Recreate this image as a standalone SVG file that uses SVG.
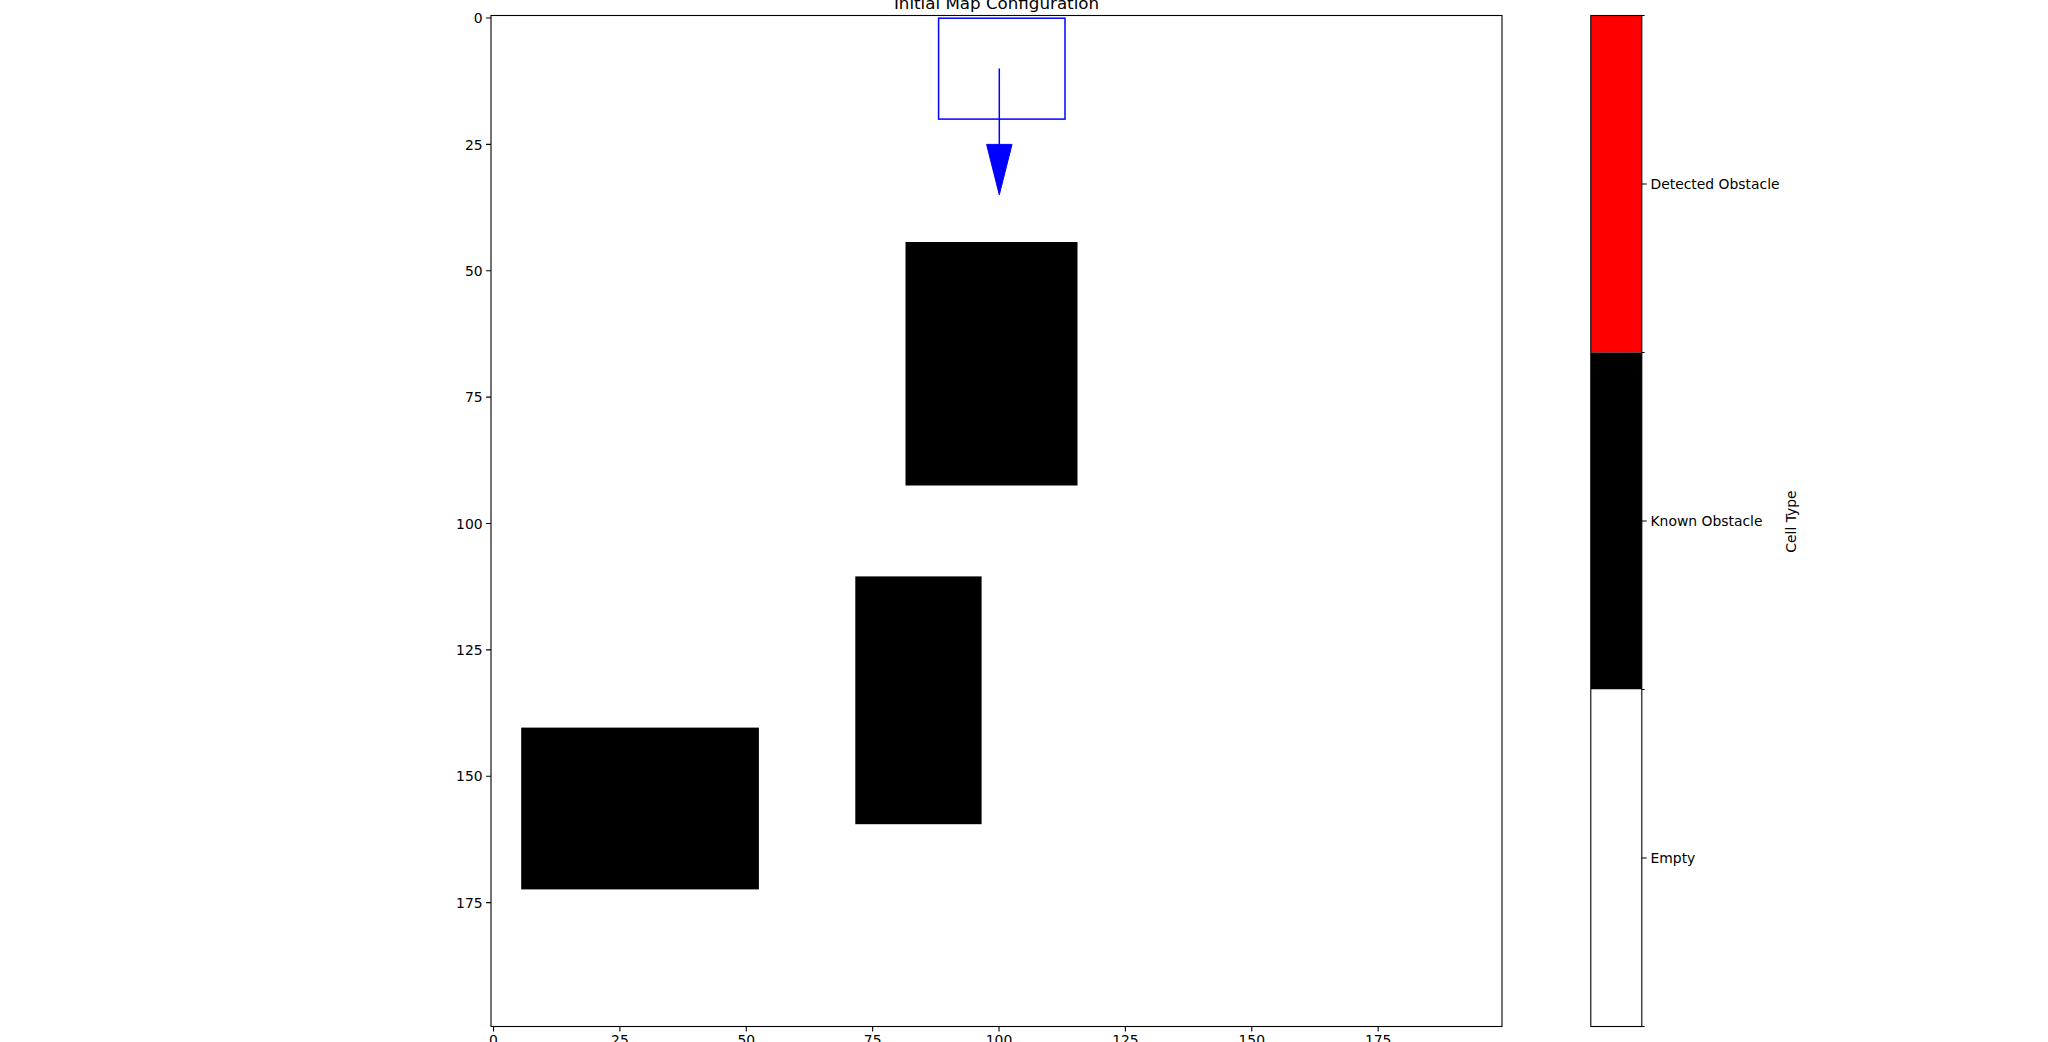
<svg xmlns="http://www.w3.org/2000/svg" width="2048" height="1042" viewBox="0 0 2048 1042">
<style>
text{font-family:"DejaVu Sans","Liberation Sans",sans-serif;fill:#000}
.tk{font-size:13.9px}
.tl{stroke:#000;stroke-width:1.1;fill:none}
.spine{fill:none;stroke:#000;stroke-width:1.1}
.obs{fill:#000}
</style>
<rect x="0" y="0" width="2048" height="1042" fill="#fff"/>
<g id="map-axes">
<rect x="491" y="15.5" width="1011" height="1011" fill="#fff"/>
<g id="obstacles">
<rect id="obstacle-1" class="obs" x="905.5" y="242" width="172" height="243.5"/>
<rect id="obstacle-2" class="obs" x="855.3" y="576.4" width="126.3" height="247.8"/>
<rect id="obstacle-3" class="obs" x="521.2" y="727.6" width="237.7" height="161.8"/>
</g>
<g id="robot">
<rect x="938.6" y="18.2" width="126.4" height="100.9" fill="none" stroke="#0000ff" stroke-width="1.5"/>
</g>
<g id="connectors">
<line x1="999.3" y1="68.5" x2="999.3" y2="145" stroke="#0000ff" stroke-width="1.5"/>
<polygon points="986.6,144.4 1012,144.4 999.3,194.8" fill="#0000ff" stroke="#0000ff" stroke-width="1"/>
</g>
<rect class="spine" x="491" y="15.5" width="1011" height="1011"/>
<g id="y-ticks">
<path class="tl" d="M491,18.03h-4.9M491,144.4h-4.9M491,270.78h-4.9M491,397.15h-4.9M491,523.53h-4.9M491,649.9h-4.9M491,776.28h-4.9M491,902.65h-4.9"/>
<text class="tk" text-anchor="end" x="482.6" y="23.1">0</text>
<text class="tk" text-anchor="end" x="482.6" y="149.5">25</text>
<text class="tk" text-anchor="end" x="482.6" y="275.8">50</text>
<text class="tk" text-anchor="end" x="482.6" y="402.2">75</text>
<text class="tk" text-anchor="end" x="482.6" y="528.6">100</text>
<text class="tk" text-anchor="end" x="482.6" y="655">125</text>
<text class="tk" text-anchor="end" x="482.6" y="781.3">150</text>
<text class="tk" text-anchor="end" x="482.6" y="907.7">175</text>
</g>
<g id="x-ticks">
<path class="tl" d="M493.53,1026.5v4.9M619.9,1026.5v4.9M746.28,1026.5v4.9M872.65,1026.5v4.9M999.03,1026.5v4.9M1125.4,1026.5v4.9M1251.78,1026.5v4.9M1378.15,1026.5v4.9"/>
<text class="tk" text-anchor="middle" x="493.53" y="1044.8">0</text>
<text class="tk" text-anchor="middle" x="619.9" y="1044.8">25</text>
<text class="tk" text-anchor="middle" x="746.28" y="1044.8">50</text>
<text class="tk" text-anchor="middle" x="872.65" y="1044.8">75</text>
<text class="tk" text-anchor="middle" x="999.03" y="1044.8">100</text>
<text class="tk" text-anchor="middle" x="1125.4" y="1044.8">125</text>
<text class="tk" text-anchor="middle" x="1251.78" y="1044.8">150</text>
<text class="tk" text-anchor="middle" x="1378.15" y="1044.8">175</text>
</g>
<text id="title" x="996.5" y="8.5" text-anchor="middle" style="font-size:16.7px">Initial Map Configuration</text>
</g>
<g id="colorbar">
<rect x="1590.8" y="15.5" width="51" height="337" fill="#ff0000"/>
<rect x="1590.8" y="352.5" width="51" height="337" fill="#000"/>
<rect x="1590.8" y="689.5" width="51" height="337" fill="#fff"/>
<rect class="spine" x="1590.8" y="15.5" width="51" height="1011"/>
<path class="tl" d="M1641.8,184h4.9M1641.8,521h4.9M1641.8,858h4.9"/>
<path class="tl" d="M1641.8,15.5h2.8M1641.8,352.5h2.8M1641.8,689.5h2.8M1641.8,1026.5h2.8"/>
<text class="tk" x="1650.5" y="189">Detected Obstacle</text>
<text class="tk" x="1650.5" y="526">Known Obstacle</text>
<text class="tk" x="1650.5" y="863">Empty</text>
<text class="tk" text-anchor="middle" transform="translate(1795.5,521.5) rotate(-90)">Cell Type</text>
</g>
</svg>
